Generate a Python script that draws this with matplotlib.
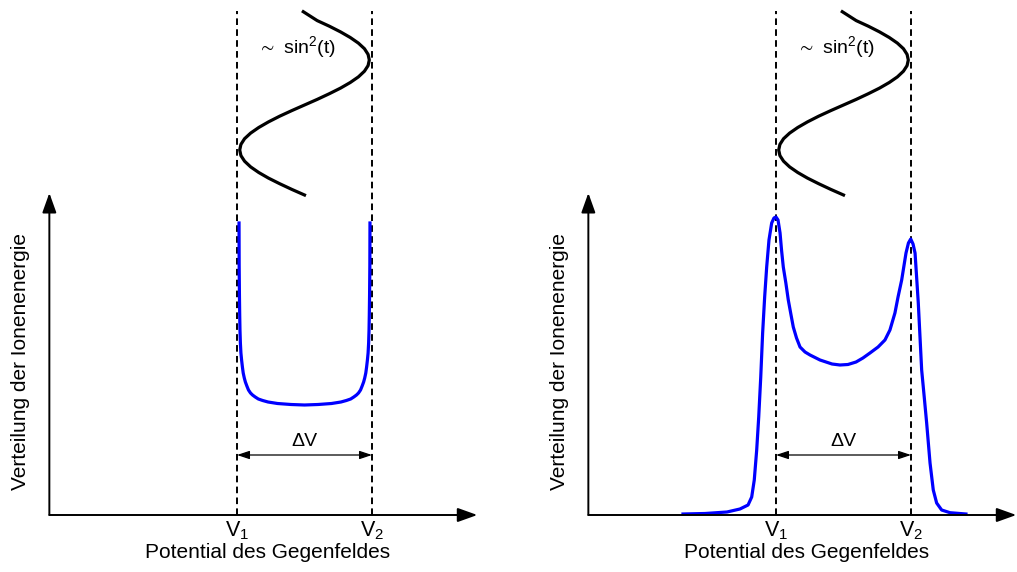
import matplotlib
matplotlib.use("Agg")
import matplotlib.pyplot as plt

plt.rcParams['font.family'] = ['Liberation Sans', 'DejaVu Sans']
plt.rcParams['mathtext.default'] = 'regular'

# x in units where V1 = 1, V2 = 2; y = height above the baseline
# drive voltage ~ sin^2(t), drawn sideways over the V1..V2 window
sin_x = [1.491, 1.594, 1.684, 1.767, 1.839, 1.899, 1.944, 1.971, 1.98,
         1.971, 1.944, 1.899, 1.839, 1.767, 1.684, 1.594, 1.50, 1.406, 1.316,
         1.233, 1.161, 1.101, 1.056, 1.029, 1.02,
         1.029, 1.056, 1.101, 1.161, 1.233, 1.316, 1.406, 1.50]
sin_y = [5.033, 4.944, 4.888, 4.831, 4.775, 4.719, 4.663, 4.606, 4.55,
         4.494, 4.438, 4.381, 4.325, 4.269, 4.213, 4.156, 4.10, 4.044, 3.988,
         3.931, 3.875, 3.819, 3.763, 3.706, 3.65,
         3.594, 3.538, 3.481, 3.425, 3.369, 3.313, 3.256, 3.20]

# ideal ion energy distribution (left)
ideal_x = [1.015, 1.016, 1.018, 1.020, 1.022, 1.025, 1.029, 1.034, 1.040, 1.046,
           1.054, 1.062, 1.073, 1.085, 1.100, 1.115, 1.135, 1.158, 1.19, 1.23,
           1.30, 1.40, 1.50, 1.60, 1.70, 1.77, 1.81, 1.842, 1.865, 1.885,
           1.90, 1.915, 1.927, 1.938, 1.946, 1.954, 1.960, 1.966, 1.971, 1.975,
           1.978, 1.980, 1.982, 1.984, 1.985]
ideal_y = [2.92, 2.5, 2.2, 2.0, 1.85, 1.72, 1.62, 1.55, 1.48, 1.42,
           1.37, 1.33, 1.29, 1.25, 1.22, 1.20, 1.18, 1.16, 1.145, 1.13,
           1.115, 1.105, 1.10, 1.105, 1.115, 1.13, 1.145, 1.16, 1.18, 1.20,
           1.22, 1.25, 1.29, 1.33, 1.37, 1.42, 1.48, 1.55, 1.62, 1.72,
           1.85, 2.0, 2.2, 2.5, 2.92]

# measured / broadened distribution (right)
real_x = [0.311, 0.474, 0.637, 0.733, 0.793, 0.820, 0.839, 0.857, 0.872, 0.887,
          0.901, 0.916, 0.931, 0.948, 0.968, 0.985, 1.0, 1.015, 1.030, 1.041,
          1.054, 1.073, 1.091, 1.110, 1.128, 1.152, 1.178, 1.215, 1.252, 1.326,
          1.415, 1.474, 1.533, 1.593, 1.644, 1.696, 1.756, 1.807, 1.844, 1.881,
          1.904, 1.931, 1.963, 1.981, 1.998, 2.015, 2.030, 2.054, 2.079, 2.098,
          2.116, 2.141, 2.165, 2.190, 2.227, 2.289, 2.407]
real_y = [0.01, 0.015, 0.03, 0.06, 0.10, 0.18, 0.35, 0.65, 0.98, 1.38,
          1.82, 2.18, 2.48, 2.75, 2.92, 2.97, 2.98, 2.95, 2.82, 2.65,
          2.48, 2.32, 2.15, 2.01, 1.88, 1.77, 1.68, 1.63, 1.60, 1.55,
          1.51, 1.50, 1.505, 1.53, 1.57, 1.62, 1.68, 1.75, 1.85, 2.02,
          2.18, 2.35, 2.62, 2.72, 2.76, 2.71, 2.62, 2.12, 1.45, 1.18,
          0.92, 0.52, 0.25, 0.12, 0.05, 0.023, 0.01]

v_ticks = [1, 2]
v_labels = ['$V_1$', '$V_2$']
xlabel = 'Potential des Gegenfeldes'
ylabel = 'Verteilung der Ionenenergie'

fig = plt.figure(figsize=(10.17, 5.72), dpi=100)
ax1 = fig.add_axes([0, 0, 0.5, 1])
ax2 = fig.add_axes([0.5, 0, 0.5, 1])


def panel(ax, xlim, cx, cy):
    ax.set_xlim(*xlim)
    ax.set_ylim(-0.57, 5.15)
    ax.axis('off')
    x0, xtip, ytip = -0.39, 2.78, 3.22
    ax.annotate('', xy=(xtip, 0), xytext=(x0, 0),
                arrowprops=dict(arrowstyle='-|>,head_length=1.2,head_width=0.43',
                                lw=1.4, color='black', mutation_scale=10,
                                shrinkA=0, shrinkB=0), annotation_clip=False)
    ax.annotate('', xy=(x0, ytip), xytext=(x0, 0),
                arrowprops=dict(arrowstyle='-|>,head_length=1.2,head_width=0.43',
                                lw=1.4, color='black', mutation_scale=10,
                                shrinkA=0, shrinkB=0))
    for v in v_ticks:
        ax.plot([v, v], [0, 5.04], color='black', lw=1.4, dashes=(3.4, 2.2))
    for v, lab in zip(v_ticks, v_labels):
        ax.text(v, -0.16, lab, ha='center', va='center', fontsize=15.5)
    ax.text(1.225, -0.38, xlabel, ha='center', va='center', fontsize=15)
    ax.text(-0.607, 1.54, ylabel, ha='center', va='center', rotation=90, fontsize=15)
    ax.plot(sin_x, sin_y, color='black', lw=2.3, solid_joinstyle='round')
    ax.text(1.15, 4.68, r'$\sim$ sin$^2$(t)', ha='left', va='center', fontsize=14)
    ax.annotate('', xy=(2, 0.60), xytext=(1, 0.60),
                arrowprops=dict(arrowstyle='<|-|>,head_length=0.75,head_width=0.25',
                                lw=0.9, color='black', mutation_scale=10,
                                shrinkA=0, shrinkB=0))
    ax.text(1.5, 0.74, 'ΔV', ha='center', va='center', fontsize=14)
    ax.plot(cx, cy, color='blue', lw=2.3, solid_joinstyle='round')


panel(ax1, (-0.7556, 3.0111), ideal_x, ideal_y)
panel(ax2, (-0.9815, 2.7852), real_x, real_y)

fig.savefig('out.png', dpi=100)
